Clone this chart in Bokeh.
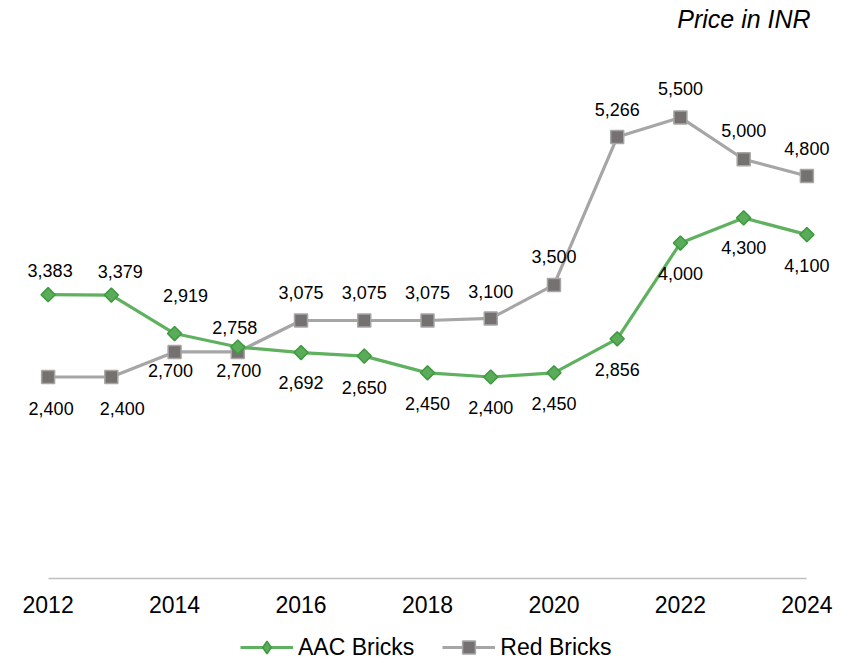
from bokeh.plotting import figure
from bokeh.models import ColumnDataSource, Range1d, FixedTicker, Legend, LegendItem, Label
from bokeh.core.properties import value
from bokeh.embed import file_html
from bokeh.resources import INLINE

# ---- data ----
years = [2012, 2013, 2014, 2015, 2016, 2017, 2018, 2019, 2020, 2021, 2022, 2023, 2024]
aac_bricks = [3383, 3379, 2919, 2758, 2692, 2650, 2450, 2400, 2450, 2856, 4000, 4300, 4100]
red_bricks = [2400, 2400, 2700, 2700, 3075, 3075, 3075, 3100, 3500, 5266, 5500, 5000, 4800]
tick_years = [2012, 2014, 2016, 2018, 2020, 2022, 2024]
series_names = ["AAC Bricks", "Red Bricks"]
unit_note = "Price in INR"

# label placement (screen pixel offsets, style only)
aac_dx = [2, 9, 11, -3, 0, 0, 0, 0, 0, 0, 0, 0, 0]
aac_dy = [-24, -24, -38, -20, 30, 31, 31, 30, 31, 31, 30, 30, 31]
red_dx = [3, 11, -4, 1, 0, 0, 0, 0, 0, 0, 0, 0, 0]
red_dy = [31, 31, 19, 19, -28, -28, -28, -27, -28, -28, -29, -29, -28]

FONT = "Liberation Sans"
GREEN_LINE = "#5fb15f"
GREEN_FILL = "#5aab5a"
GREEN_EDGE = "#3d9a3d"
GRAY_LINE = "#a6a6a6"
GRAY_FILL = "#767171"

aac_src = ColumnDataSource(dict(x=years, y=aac_bricks,
                                lbl=[f"{v:,}" for v in aac_bricks], dx=aac_dx, dy=aac_dy))
red_src = ColumnDataSource(dict(x=years, y=red_bricks,
                                lbl=[f"{v:,}" for v in red_bricks], dx=red_dx, dy=red_dy))

# frame fills the whole canvas; the x axis is drawn at y = 0 inside it
p = figure(width=840, height=660, output_backend="svg", toolbar_location=None,
           x_range=Range1d(2011.5, 2024.5), y_range=Range1d(-985, 6896),
           y_axis_location=None, title=None,
           min_border_left=16, min_border_right=2, min_border_top=0, min_border_bottom=0)
p.outline_line_color = None
p.xgrid.visible = False
p.ygrid.visible = False
p.background_fill_color = "white"

ax = p.xaxis[0]
ax.fixed_location = 0
ax.ticker = FixedTicker(ticks=tick_years)
ax.bounds = (years[0], years[-1])
ax.axis_line_color = "#bfbfbf"
ax.axis_line_width = 1.5
ax.major_tick_line_color = None
ax.minor_tick_line_color = None
ax.major_tick_out = 0
ax.major_tick_in = 0
ax.major_label_standoff = 18
ax.major_label_text_font = FONT
ax.major_label_text_font_size = "23px"
ax.major_label_text_color = "#000000"

# lines and markers
red_line = p.line("x", "y", source=red_src, line_color=GRAY_LINE, line_width=3.2)
red_mk = p.scatter("x", "y", source=red_src, marker="square", size=13,
                   fill_color=GRAY_FILL, line_color=GRAY_LINE, line_width=1.5)
aac_line = p.line("x", "y", source=aac_src, line_color=GREEN_LINE, line_width=3.2)
# diamond shape used for the legend swatch (covered by the rotated squares below)
aac_leg = p.scatter("x", "y", source=aac_src, marker="diamond", size=12,
                    fill_color=GREEN_FILL, line_color=GREEN_EDGE, line_width=1.5)
aac_mk = p.scatter("x", "y", source=aac_src, marker="square", size=10, angle=0.7854,
                   fill_color=GREEN_FILL, line_color=GREEN_EDGE, line_width=1.5)

# data labels
for src in (aac_src, red_src):
    p.text("x", "y", text="lbl", source=src, x_offset="dx", y_offset="dy",
           text_align="center", text_baseline="middle",
           text_font=value(FONT), text_font_size="18px", text_color="#000000")

note = Label(x=2024.06, y=6681, text=unit_note, text_align="right", text_baseline="middle",
             text_font=FONT, text_font_size="25px", text_font_style="italic",
             text_color="#000000")
p.add_layout(note)

legend = Legend(items=[LegendItem(label=series_names[0], renderers=[aac_line, aac_leg]),
                       LegendItem(label=series_names[1], renderers=[red_line, red_mk])],
                location=(224, -3), orientation="horizontal",
                glyph_width=53, glyph_height=32, label_standoff=5, spacing=28,
                padding=0, margin=0, border_line_color=None, background_fill_alpha=0,
                label_text_font=FONT, label_text_font_size="23px", label_text_color="#000000")
p.add_layout(legend, "center")

open("out.html", "w").write(file_html(p, INLINE))
